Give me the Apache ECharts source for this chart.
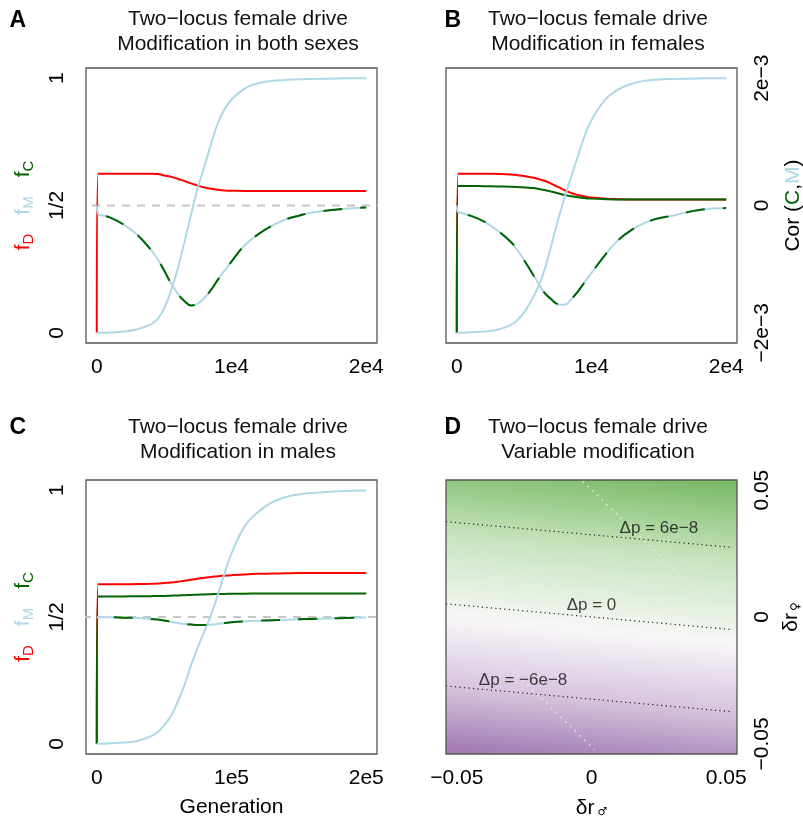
<!DOCTYPE html>
<html><head><meta charset="utf-8">
<script src="https://cdn.jsdelivr.net/npm/echarts@6/dist/echarts.min.js"></script>
<style>html,body{margin:0;padding:0;background:#fff}#c{width:803px;height:821px}</style>
</head><body><div id="c"></div>
<script>
// ---------- data ----------
const genAB = [0, 100, 300, 1000, 2000, 3000, 4000, 4500, 5000, 5500, 6000, 6500, 7000, 7500, 8000, 8500, 9000, 9500, 10000, 11000, 12000, 13000, 14000, 15000, 16000, 18000, 20000];
// Panel A: modification in both sexes
const fD_A = [0, 0.625, 0.625, 0.625, 0.625, 0.625, 0.625, 0.624, 0.618, 0.613, 0.605, 0.596, 0.587, 0.578, 0.571, 0.566, 0.562, 0.559, 0.558, 0.557, 0.557, 0.557, 0.557, 0.557, 0.557, 0.557, 0.557];
const fM_A = [0, 0, 0, 0.001, 0.005, 0.014, 0.033, 0.053, 0.095, 0.165, 0.25, 0.355, 0.465, 0.57, 0.655, 0.745, 0.825, 0.88, 0.915, 0.96, 0.98, 0.989, 0.993, 0.996, 0.997, 0.999, 1.0];
const corA = [0, -0.13, -0.15, -0.19, -0.30, -0.46, -0.69, -0.84, -1.02, -1.22, -1.38, -1.50, -1.57, -1.54, -1.45, -1.32, -1.16, -1.02, -0.88, -0.62, -0.45, -0.32, -0.22, -0.16, -0.11, -0.06, -0.03];
// Panel B: modification in females
const fD_B = [0, 0.625, 0.625, 0.625, 0.625, 0.624, 0.622, 0.619, 0.616, 0.611, 0.605, 0.597, 0.586, 0.573, 0.56, 0.549, 0.541, 0.535, 0.531, 0.527, 0.525, 0.524, 0.524, 0.524, 0.524, 0.524, 0.524];
const fC_B = [0, 0.577, 0.577, 0.577, 0.576, 0.575, 0.574, 0.573, 0.571, 0.569, 0.566, 0.561, 0.555, 0.548, 0.541, 0.536, 0.532, 0.529, 0.527, 0.525, 0.524, 0.524, 0.524, 0.524, 0.524, 0.524, 0.524];
const fM_B = [0, 0, 0, 0.002, 0.005, 0.012, 0.03, 0.05, 0.08, 0.125, 0.175, 0.245, 0.34, 0.44, 0.53, 0.615, 0.695, 0.775, 0.835, 0.915, 0.956, 0.978, 0.99, 0.995, 0.997, 0.999, 1.0];
const corB = [0, -0.105, -0.115, -0.16, -0.25, -0.39, -0.57, -0.70, -0.86, -1.03, -1.20, -1.37, -1.47, -1.55, -1.56, -1.47, -1.35, -1.20, -1.06, -0.78, -0.54, -0.38, -0.27, -0.20, -0.16, -0.07, -0.04];
// Panel C: modification in males
const genC = [0, 1000, 3000, 10000, 20000, 30000, 40000, 45000, 50000, 55000, 60000, 65000, 70000, 75000, 80000, 85000, 90000, 95000, 100000, 110000, 120000, 130000, 140000, 150000, 160000, 180000, 200000];
const fD_C = [0, 0.629, 0.629, 0.629, 0.629, 0.63, 0.631, 0.632, 0.634, 0.636, 0.639, 0.643, 0.647, 0.651, 0.655, 0.658, 0.661, 0.663, 0.665, 0.668, 0.67, 0.671, 0.672, 0.673, 0.673, 0.673, 0.673];
const fC_C = [0, 0.581, 0.581, 0.581, 0.581, 0.582, 0.582, 0.583, 0.583, 0.584, 0.585, 0.586, 0.587, 0.588, 0.589, 0.59, 0.591, 0.591, 0.592, 0.592, 0.593, 0.593, 0.593, 0.593, 0.593, 0.593, 0.593];
const fM_C = [0, 0, 0, 0.002, 0.005, 0.011, 0.03, 0.045, 0.074, 0.11, 0.165, 0.23, 0.31, 0.38, 0.445, 0.51, 0.59, 0.675, 0.75, 0.86, 0.915, 0.952, 0.972, 0.983, 0.989, 0.996, 0.999];
const corC = [0, -0.005, -0.005, -0.005, -0.01, -0.016, -0.03, -0.04, -0.055, -0.075, -0.095, -0.11, -0.12, -0.126, -0.126, -0.12, -0.108, -0.095, -0.083, -0.068, -0.058, -0.05, -0.043, -0.036, -0.03, -0.018, -0.008];
// reference line at 1/2 (x extent, drawn past the box)
const halfLevel = 0.5;
const halfSpanAB = [-1470, 21240];
const halfSpanC = [-10250, 212450];
// ticks
const freqTicks = [0, 0.5, 1];
const freqTickLabels = ['0', '1/2', '1'];
const genTicksAB = [0, 10000, 20000];
const genTickLabelsAB = ['0', '1e4', '2e4'];
const genTicksC = [0, 100000, 200000];
const genTickLabelsC = ['0', '1e5', '2e5'];
const corTicks = [-2, 0, 2];            // units of 1e-3
const corTickLabels = ['\u22122e\u22123', '0', '2e\u22123'];
const deltaTicks = [-0.05, 0, 0.05];
const deltaTickLabels = ['\u22120.05', '0', '0.05'];
// Panel D: Δp (units of 1e-8) at grid nodes of δr♂ (columns) × δr♀ (rows)
const dpNodeX = [-0.054, -0.027, 0, 0.027, 0.054];
const dpNodeY = [-0.054, -0.036, -0.018, 0, 0.018, 0.036, 0.054];
const dpNodes = [
  [-11.0, -10.5, -10.0, -9.5, -9.0],
  [-7.6, -7.1, -6.7, -6.2, -5.7],
  [-4.3, -3.8, -3.3, -2.9, -2.4],
  [-1.0, -0.5, 0.0, 0.5, 1.0],
  [2.4, 2.9, 3.3, 3.8, 4.3],
  [5.7, 6.2, 6.7, 7.1, 7.6],
  [9.0, 9.5, 10.0, 10.5, 11.0]
];
const contourNames = ['\u0394p = 6e\u22128', '\u0394p = 0', '\u0394p = \u22126e\u22128'];
const contourLines = [
  [[-0.054, 0.0376], [0.0525, 0.0274]],
  [[-0.054, 0.0052], [0.0525, -0.0050]],
  [[-0.054, -0.0272], [0.0525, -0.0374]]
];
const contourLabelAt = [[0.025, 0.035], [0, 0.0045], [-0.0254, -0.0249]];
const faintLines = [
  [[-0.0033, 0.0535], [0.0519, -0.0031]],
  [[-0.052, 0.0022], [0.0011, -0.0523]],
  [[-0.020, 0.0193], [0.0196, -0.0189]]
];
const titleTexts = [
  'Two\u2212locus female drive\nModification in both sexes',
  'Two\u2212locus female drive\nModification in females',
  'Two\u2212locus female drive\nModification in males',
  'Two\u2212locus female drive\nVariable modification'
];
const panelLetters = ['A', 'B', 'C', 'D'];

// ---------- styles ----------
const FONT = '"Liberation Sans", Arial, Helvetica, sans-serif';
const FS = 21;
const RED = '#ff0000', LBLUE = '#add8e6', DGREEN = '#006400', GRAY = '#c6c6c6';
// colour ramp for Δp (value -> rgb)
const dpPalette = [[-11, [160, 117, 177]], [-6, [214, 196, 222]], [-1, [248, 247, 248]], [5, [199, 228, 190]], [11, [118, 184, 98]]];
function dpColor(v) {
  const p = dpPalette;
  if (v <= p[0][0]) return 'rgb(' + p[0][1].join(',') + ')';
  if (v >= p[p.length - 1][0]) return 'rgb(' + p[p.length - 1][1].join(',') + ')';
  for (let k = 0; k < p.length - 1; k++) {
    if (v <= p[k + 1][0]) {
      const t = (v - p[k][0]) / (p[k + 1][0] - p[k][0]);
      const c = p[k][1].map((c0, m) => Math.round(c0 + (p[k + 1][1][m] - c0) * t));
      return 'rgb(' + c.join(',') + ')';
    }
  }
}
const pick = (ticks, labels) => v => { let k = 0; ticks.forEach((t, i) => { if (Math.abs(t - v) < Math.abs(ticks[k] - v)) k = i; }); return labels[k]; };
const lbl = {fontSize: FS, color: '#000', fontFamily: FONT};

const freqName = '{r|f}{rs|D}{sp|}{b|f}{bs|M}{sp|}{g|f}{gs|C}';
const freqRich = {
  r: {color: RED, fontSize: FS, fontFamily: FONT},
  rs: {color: RED, fontSize: 15, fontFamily: FONT, padding: [10, 0, 0, 0]},
  b: {color: LBLUE, fontSize: FS, fontFamily: FONT},
  bs: {color: LBLUE, fontSize: 15, fontFamily: FONT, padding: [10, 0, 0, 0]},
  g: {color: DGREEN, fontSize: FS, fontFamily: FONT},
  gs: {color: DGREEN, fontSize: 15, fontFamily: FONT, padding: [10, 0, 0, 0]},
  sp: {width: 19}
};

function genAxis(gi, min, max, ticks, labels, name, rich) {
  return {type: 'value', gridIndex: gi, min, max,
    axisLine: {show: false}, axisTick: {show: false}, splitLine: {show: false},
    axisLabel: Object.assign({customValues: ticks, formatter: pick(ticks, labels), margin: 14}, lbl),
    name: name || '', nameLocation: 'middle', nameGap: 43,
    nameTextStyle: Object.assign({}, lbl, rich ? {rich} : {})};
}
function freqAxis(gi, show) {
  return {type: 'value', gridIndex: gi, min: -0.04, max: 1.04, position: 'left', show,
    axisLine: {show: false}, axisTick: {show: false}, splitLine: {show: false},
    axisLabel: Object.assign({customValues: freqTicks, formatter: pick(freqTicks, freqTickLabels), rotate: 90, margin: 18}, lbl),
    name: freqName, nameLocation: 'middle', nameRotate: 90, nameGap: 50,
    nameTextStyle: {rich: freqRich, fontSize: FS, fontFamily: FONT}};
}
function corAxis(gi, show) {
  return {type: 'value', gridIndex: gi, min: -2.16, max: 2.16, position: 'right', show,
    axisLine: {show: false}, axisTick: {show: false}, splitLine: {show: false},
    axisLabel: Object.assign({customValues: corTicks, formatter: pick(corTicks, corTickLabels), rotate: 90, margin: 15}, lbl),
    name: '{k|Cor (}{g|C}{k|,}{b|M}{k|)}', nameLocation: 'middle', nameRotate: 90, nameGap: 46,
    nameTextStyle: {fontSize: FS, fontFamily: FONT, rich: {
      k: {color: '#000', fontSize: FS, fontFamily: FONT},
      g: {color: DGREEN, fontSize: FS, fontFamily: FONT},
      b: {color: LBLUE, fontSize: FS, fontFamily: FONT}}}};
}

function line(xi, yi, xs, ys, color, extra) {
  return Object.assign({type: 'line', xAxisIndex: xi, yAxisIndex: yi,
    data: xs.map((x, i) => [x, ys[i]]), symbol: 'none', smooth: 0.45, silent: true,
    lineStyle: {color, width: 2}}, extra || {});
}
function halfLine(xi, yi, span) {
  return {type: 'line', xAxisIndex: xi, yAxisIndex: yi, clip: false, silent: true, symbol: 'none',
    data: span.map(x => [x, halfLevel]), lineStyle: {color: GRAY, width: 2, type: [8, 7]}};
}
function corPair(xi, yi, xs, ys) {
  return [
    line(xi, yi, xs, ys, LBLUE),
    line(xi, yi, xs, ys, DGREEN, {lineStyle: {color: DGREEN, width: 2, type: [19, 18], dashOffset: 20}})
  ];
}

// cells of the Δp field (corners from the node arrays)
const dpCells = [];
for (let i = 0; i < dpNodeY.length - 1; i++) {
  for (let j = 0; j < dpNodeX.length - 1; j++) {
    dpCells.push([dpNodeX[j], dpNodeY[i], dpNodeX[j + 1], dpNodeY[i + 1],
      dpNodes[i][j], dpNodes[i][j + 1], dpNodes[i + 1][j], dpNodes[i + 1][j + 1]]);
  }
}
function renderCell(params, api) {
  const p0 = api.coord([api.value(0), api.value(1)]);
  const p1 = api.coord([api.value(2), api.value(3)]);
  const v00 = api.value(4), v10 = api.value(5), v01 = api.value(6), v11 = api.value(7);
  const left = p0[0], right = p1[0], bottom = p0[1], top = p1[1];
  const w = right - left, h = bottom - top;
  const gx = ((v10 - v00) + (v11 - v01)) / 2 / w;
  const gy = -((v01 - v00) + (v11 - v10)) / 2 / h;
  const gm = Math.hypot(gx, gy) || 1e-9;
  const ux = gx / gm, uy = gy / gm;
  const cx = (left + right) / 2, cy = (top + bottom) / 2;
  const vc = (v00 + v10 + v01 + v11) / 4;
  const L = Math.hypot(w, h) / 2;
  const stops = [];
  for (let k = 0; k <= 12; k++) {
    const t = k / 12;
    stops.push({offset: t, color: dpColor(vc - gm * L + 2 * gm * L * t)});
  }
  return {type: 'rect', silent: true,
    shape: {x: left - 0.6, y: top - 0.6, width: w + 1.2, height: h + 1.2},
    style: {fill: new echarts.graphic.LinearGradient(cx - ux * L, cy - uy * L, cx + ux * L, cy + uy * L, stops, true)}};
}

const series = [
  {type: 'custom', xAxisIndex: 3, yAxisIndex: 6, data: dpCells, renderItem: renderCell, silent: true, clip: true, z: 1},
  // A
  halfLine(0, 0, halfSpanAB),
  line(0, 0, genAB, fD_A, RED),
  line(0, 0, genAB, fM_A, LBLUE),
  ...corPair(0, 1, genAB, corA),
  // B
  line(1, 2, genAB, fD_B, RED),
  line(1, 2, genAB, fC_B, DGREEN),
  line(1, 2, genAB, fM_B, LBLUE),
  ...corPair(1, 3, genAB, corB),
  // C
  halfLine(2, 4, halfSpanC),
  line(2, 4, genC, fD_C, RED),
  line(2, 4, genC, fC_C, DGREEN),
  line(2, 4, genC, fM_C, LBLUE),
  ...corPair(2, 5, genC, corC),
  // D contours
  ...faintLines.map(seg => ({type: 'line', xAxisIndex: 3, yAxisIndex: 6, data: seg, symbol: 'none', silent: true, z: 3,
    lineStyle: {color: 'rgba(236,236,236,0.85)', width: 1.6, type: [1.6, 5]}})),
  ...contourLines.map(seg => ({type: 'line', xAxisIndex: 3, yAxisIndex: 6, data: seg, symbol: 'none', silent: true, z: 3,
    lineStyle: {color: '#222', width: 1.2, type: [1.2, 3.3]}})),
  {type: 'scatter', xAxisIndex: 3, yAxisIndex: 6, symbolSize: 0, silent: true, z: 4,
    data: contourLabelAt.map((p, i) => ({name: contourNames[i], value: p})),
    label: {show: true, position: 'inside', formatter: '{b}', fontSize: 17, color: '#111', fontFamily: FONT}}
];

const box = {show: true, borderColor: '#555', borderWidth: 1.3, backgroundColor: 'transparent', outerBoundsMode: 'none'};
const option = {
  animation: false,
  backgroundColor: '#fff',
  title: [
    ...titleTexts.map((t, i) => ({text: t, left: [238, 598, 238, 598][i], top: [6.9, 6.9, 414.5, 414.5][i],
      textAlign: 'center', padding: 0,
      textStyle: {fontSize: FS, lineHeight: 25, fontWeight: 'normal', color: '#111', fontFamily: FONT}})),
    ...panelLetters.map((t, i) => ({text: t, left: [9.5, 444.5, 9.5, 444.5][i], top: [9, 9, 416, 416][i], padding: 0,
      textStyle: {fontSize: 23, fontWeight: 'bold', color: '#000', fontFamily: FONT}}))
  ],
  grid: [
    Object.assign({left: 86, top: 68, width: 291, height: 275}, box),
    Object.assign({left: 446, top: 68, width: 291, height: 275}, box),
    Object.assign({left: 86, top: 480, width: 291, height: 274}, box),
    Object.assign({left: 446, top: 480, width: 291, height: 274, z: 10}, box)
  ],
  xAxis: [
    genAxis(0, -800, 20800, genTicksAB, genTickLabelsAB),
    genAxis(1, -800, 20800, genTicksAB, genTickLabelsAB),
    genAxis(2, -8000, 208000, genTicksC, genTickLabelsC, 'Generation'),
    Object.assign(genAxis(3, -0.054, 0.054, deltaTicks, deltaTickLabels, '{k|\u03b4r}{s|\u2642}',
      {k: {fontSize: FS, fontFamily: FONT, color: '#000'}, s: {fontSize: 11, fontFamily: '"DejaVu Sans", sans-serif', color: '#000', padding: [8, 0, 0, 3]}}), {nameGap: 44})
  ],
  yAxis: [
    freqAxis(0, true),
    corAxis(0, false),
    freqAxis(1, false),
    corAxis(1, true),
    freqAxis(2, true),
    corAxis(2, false),
    {type: 'value', gridIndex: 3, min: -0.054, max: 0.054, position: 'right',
      axisLine: {show: false}, axisTick: {show: false}, splitLine: {show: false},
      axisLabel: Object.assign({customValues: deltaTicks, formatter: pick(deltaTicks, deltaTickLabels), rotate: 90, margin: 15}, lbl),
      name: '{k|\u03b4r}{s|\u2640}', nameLocation: 'middle', nameRotate: 90, nameGap: 44,
      nameTextStyle: {fontSize: FS, fontFamily: FONT, rich: {
        k: {fontSize: FS, fontFamily: FONT, color: '#000'},
        s: {fontSize: 12, fontFamily: '"DejaVu Sans", sans-serif', color: '#000', padding: [9, 0, 0, 2]}}}}
  ],
  series
};
const chart = echarts.init(document.getElementById('c'), null, {renderer: 'canvas'});
chart.setOption(option);
</script></body></html>
